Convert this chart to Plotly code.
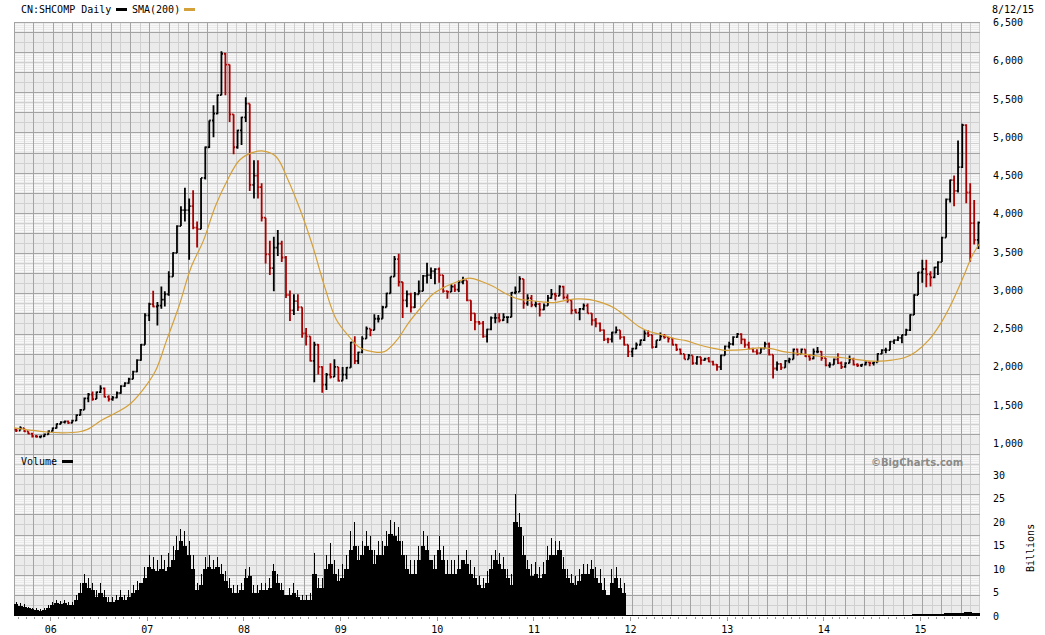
import plotly.graph_objects as go

# ---------------- data ----------------
# semi-monthly bars: 2005 = Aug(2nd half)..Dec, 2006-2014 = 24 halves, 2015 = Jan..Aug(1st half)
high_2005 = [1190, 1225, 1190, 1160, 1140, 1110, 1100, 1130, 1170]
high_2006 = [1210, 1260, 1290, 1300, 1300, 1310, 1380, 1450, 1600, 1660, 1680, 1680, 1760, 1730, 1630, 1620, 1680, 1760, 1800, 1860, 1950, 2100, 2300, 2700]
high_2007 = [2840, 2995, 2850, 3050, 2990, 3250, 3500, 3850, 4100, 4340, 4200, 4310, 3900, 4470, 4880, 5220, 5420, 5560, 6124, 6100, 5950, 5300, 5100, 5270]
high_2008 = [5522, 5400, 4700, 4700, 4400, 3950, 3650, 3700, 3790, 3650, 3450, 3000, 2950, 2950, 2780, 2510, 2400, 2330, 2300, 2010, 1920, 2050, 2100, 2000]
high_2009 = [2000, 2000, 2330, 2400, 2200, 2400, 2530, 2500, 2690, 2680, 2800, 2970, 3180, 3450, 3478, 3100, 3000, 2970, 2980, 3130, 3200, 3360, 3300, 3290]
high_2010 = [3300, 3200, 3000, 3080, 3080, 3130, 3180, 3130, 2870, 2700, 2600, 2600, 2500, 2660, 2700, 2700, 2700, 2660, 2980, 3050, 3186, 3150, 2950, 2940]
high_2011 = [2860, 2840, 2830, 2940, 3020, 2970, 3067, 3060, 2950, 2870, 2760, 2770, 2830, 2830, 2700, 2640, 2580, 2490, 2380, 2460, 2530, 2480, 2400, 2290]
high_2012 = [2250, 2320, 2360, 2480, 2480, 2420, 2350, 2450, 2430, 2390, 2380, 2300, 2240, 2170, 2170, 2150, 2140, 2130, 2120, 2130, 2080, 2040, 2160, 2280]
high_2013 = [2330, 2400, 2444, 2440, 2370, 2330, 2250, 2230, 2250, 2330, 2320, 2160, 2070, 2050, 2090, 2120, 2240, 2240, 2240, 2230, 2170, 2240, 2260, 2210]
high_2014 = [2110, 2060, 2110, 2180, 2070, 2060, 2150, 2120, 2050, 2040, 2070, 2070, 2070, 2180, 2230, 2250, 2340, 2360, 2400, 2420, 2500, 2690, 2950, 3240]
high_2015 = [3400, 3400, 3250, 3310, 3380, 3700, 4200, 4450, 4500, 4960, 5178, 5170, 4400, 4180, 3900]

low_2005 = [1150, 1170, 1150, 1120, 1080, 1075, 1070, 1085, 1115]
low_2006 = [1160, 1195, 1250, 1260, 1255, 1265, 1295, 1365, 1440, 1540, 1560, 1580, 1660, 1600, 1550, 1560, 1590, 1650, 1740, 1780, 1840, 1930, 2080, 2290]
low_2007 = [2600, 2780, 2540, 2760, 2790, 2930, 3180, 3500, 3840, 3900, 3400, 3800, 3560, 3800, 4450, 4860, 5000, 5300, 5550, 5550, 5200, 4780, 4850, 4900]
low_2008 = [5200, 4300, 4200, 4200, 3900, 3350, 3200, 2990, 3450, 3370, 2900, 2600, 2680, 2730, 2380, 2280, 2070, 1800, 1900, 1664, 1700, 1850, 1950, 1810]
low_2009 = [1840, 1840, 1990, 2040, 2040, 2180, 2370, 2400, 2480, 2580, 2630, 2780, 2960, 3180, 3050, 2640, 2780, 2710, 2770, 2950, 2990, 3090, 3150, 3080]
low_2010 = [3100, 2970, 2890, 2980, 2980, 2980, 3080, 2860, 2600, 2480, 2550, 2380, 2320, 2480, 2570, 2580, 2600, 2570, 2650, 2950, 2980, 2760, 2800, 2780]
low_2011 = [2780, 2660, 2740, 2800, 2890, 2870, 2930, 2880, 2840, 2690, 2700, 2610, 2740, 2700, 2540, 2520, 2460, 2340, 2310, 2320, 2440, 2360, 2280, 2130]
low_2012 = [2130, 2230, 2280, 2340, 2390, 2240, 2250, 2350, 2370, 2320, 2280, 2210, 2160, 2100, 2100, 2030, 2030, 2030, 2080, 2060, 2020, 1950, 1960, 2150]
low_2013 = [2240, 2280, 2380, 2300, 2250, 2230, 2190, 2160, 2180, 2240, 2150, 1849, 1950, 1960, 1990, 2050, 2100, 2150, 2170, 2130, 2080, 2100, 2180, 2080]
low_2014 = [2010, 1990, 2030, 2040, 1974, 1990, 2050, 2020, 2000, 2000, 2020, 2010, 2020, 2060, 2170, 2180, 2220, 2300, 2340, 2310, 2410, 2470, 2680, 2940]
low_2015 = [3100, 3040, 3050, 3160, 3200, 3370, 3700, 4150, 4100, 4280, 4600, 4140, 3373, 3600, 3540]

close_2005 = [1170, 1200, 1160, 1130, 1095, 1090, 1095, 1120, 1160]
close_2006 = [1200, 1255, 1280, 1290, 1270, 1300, 1370, 1440, 1590, 1640, 1580, 1670, 1720, 1610, 1580, 1600, 1660, 1750, 1790, 1840, 1940, 2090, 2290, 2675]
close_2007 = [2820, 2790, 2800, 2880, 2950, 3180, 3490, 3840, 4050, 4050, 4100, 3820, 3800, 4470, 4870, 5220, 5310, 5550, 6092, 5950, 5300, 4870, 5090, 5260]
close_2008 = [5440, 4380, 4500, 4350, 3950, 3470, 3290, 3560, 3610, 3430, 2940, 2740, 2860, 2780, 2440, 2400, 2080, 2290, 2000, 1770, 1900, 1870, 2000, 1820]
close_2009 = [1900, 1990, 2320, 2080, 2190, 2370, 2500, 2480, 2630, 2630, 2780, 2960, 3180, 3410, 3110, 2870, 2950, 2780, 2950, 2990, 3190, 3200, 3250, 3277]
close_2010 = [3200, 2990, 2980, 3050, 3010, 3110, 3130, 2870, 2700, 2590, 2570, 2400, 2490, 2640, 2640, 2610, 2650, 2650, 2970, 2980, 3150, 2830, 2900, 2810]
close_2011 = [2820, 2750, 2800, 2900, 2950, 2930, 3050, 2910, 2870, 2740, 2710, 2760, 2800, 2700, 2610, 2570, 2480, 2360, 2360, 2450, 2480, 2390, 2290, 2200]
close_2012 = [2240, 2290, 2350, 2440, 2420, 2260, 2350, 2400, 2390, 2370, 2290, 2230, 2170, 2100, 2150, 2050, 2130, 2090, 2110, 2070, 2030, 2000, 2150, 2270]
close_2013 = [2300, 2390, 2430, 2360, 2290, 2240, 2200, 2180, 2240, 2300, 2160, 1980, 2040, 1990, 2080, 2100, 2230, 2170, 2230, 2140, 2110, 2200, 2200, 2116]
close_2014 = [2020, 2030, 2100, 2050, 2000, 2050, 2100, 2030, 2020, 2030, 2060, 2050, 2060, 2170, 2220, 2220, 2330, 2350, 2380, 2420, 2480, 2680, 2940, 3235]
close_2015 = [3280, 3210, 3170, 3300, 3370, 3690, 4190, 4440, 4300, 4610, 5160, 4280, 3880, 3660, 3886]
first_open = 1180

# volume, billions (same semi-monthly periods): typical level and the highest spike
vol_2005 = [2.5, 2.2, 2.0, 1.6, 1.4, 1.2, 1.1, 1.3, 1.8]
vol_2006 = [2.4, 2.8, 2.6, 2.8, 2.4, 2.3, 3.5, 5.0, 7.0, 6.0, 5.5, 4.0, 5.0, 4.0, 3.0, 3.0, 3.4, 4.0, 3.5, 4.0, 4.8, 5.5, 7.0, 8.0]
vol_2007 = [10.5, 10.0, 9.5, 10.0, 9.5, 10.5, 12.0, 14.0, 16.0, 15.0, 13.0, 10.0, 5.5, 6.5, 10.0, 10.5, 10.0, 10.5, 9.0, 7.5, 6.0, 5.0, 5.0, 5.5]
vol_2008 = [8.0, 8.5, 5.0, 5.0, 5.5, 5.5, 6.0, 9.5, 7.0, 5.5, 4.5, 4.5, 5.0, 4.0, 3.5, 3.5, 3.5, 9.0, 6.0, 6.0, 10.0, 11.0, 9.0, 7.5]
vol_2009 = [8.0, 10.0, 14.0, 15.0, 12.0, 13.0, 15.0, 14.0, 11.0, 13.0, 13.0, 15.0, 17.5, 17.0, 16.0, 13.0, 10.0, 9.0, 9.0, 12.0, 15.0, 14.0, 12.0, 10.0]
vol_2010 = [14.0, 12.0, 9.0, 9.0, 9.0, 10.0, 12.0, 11.0, 9.0, 8.0, 6.5, 6.0, 7.0, 10.0, 12.0, 11.0, 10.0, 8.0, 6.5, 20.0, 19.0, 13.0, 10.0, 8.5]
vol_2011 = [9.0, 8.0, 9.0, 12.0, 13.0, 13.0, 14.0, 10.0, 8.0, 7.0, 6.5, 7.5, 9.0, 9.0, 10.0, 8.0, 7.0, 5.5, 4.5, 7.0, 8.0, 6.0, 5.0, 0.2]
vol_2012 = [0.2, 0.2, 0.2, 0.2, 0.2, 0.2, 0.2, 0.2, 0.2, 0.2, 0.2, 0.2, 0.2, 0.2, 0.2, 0.2, 0.2, 0.2, 0.2, 0.2, 0.2, 0.2, 0.2, 0.2]
vol_2013 = [0.2, 0.2, 0.2, 0.2, 0.2, 0.2, 0.2, 0.2, 0.2, 0.2, 0.2, 0.2, 0.2, 0.2, 0.2, 0.2, 0.2, 0.2, 0.2, 0.2, 0.2, 0.2, 0.2, 0.2]
vol_2014 = [0.2, 0.2, 0.2, 0.2, 0.2, 0.2, 0.2, 0.2, 0.2, 0.2, 0.2, 0.2, 0.2, 0.2, 0.2, 0.2, 0.25, 0.3, 0.3, 0.3, 0.3, 0.3, 0.35, 0.35]
vol_2015 = [0.35, 0.35, 0.4, 0.4, 0.45, 0.5, 0.6, 0.6, 0.6, 0.65, 0.7, 0.8, 0.8, 0.7, 0.7]

peak_2005 = [3.0, 2.8, 2.5, 2.0, 1.8, 1.6, 1.5, 1.8, 2.3]
peak_2006 = [3.0, 3.5, 3.2, 3.5, 3.0, 3.0, 4.5, 7.0, 9.0, 8.0, 7.0, 5.5, 7.0, 5.5, 4.0, 4.0, 4.5, 5.5, 4.5, 5.5, 6.5, 7.5, 9.0, 10.5]
peak_2007 = [13.0, 12.5, 12.0, 13.0, 12.0, 13.5, 15.0, 17.0, 18.5, 18.0, 16.0, 13.0, 7.0, 9.0, 12.5, 13.0, 12.0, 12.5, 11.0, 9.5, 8.0, 6.5, 6.5, 7.0]
peak_2008 = [10.0, 10.5, 6.5, 6.5, 7.0, 7.0, 8.0, 11.0, 9.0, 7.0, 6.0, 6.0, 7.0, 5.5, 4.5, 4.5, 5.0, 13.5, 8.0, 8.0, 13.0, 15.5, 12.0, 10.0]
peak_2009 = [11.0, 13.0, 18.0, 20.0, 15.0, 16.0, 18.0, 17.0, 14.0, 16.0, 16.0, 18.0, 20.5, 20.0, 19.0, 16.0, 13.0, 12.0, 12.0, 15.0, 18.0, 17.0, 15.0, 13.0]
peak_2010 = [17.0, 15.0, 12.0, 12.0, 12.0, 13.0, 15.0, 14.0, 12.0, 10.5, 8.5, 8.0, 9.5, 13.0, 14.0, 13.5, 12.5, 10.0, 9.0, 26.0, 22.0, 17.0, 12.0, 11.0]
peak_2011 = [11.5, 10.5, 11.5, 15.0, 16.5, 16.0, 16.0, 12.5, 10.0, 9.0, 8.5, 10.0, 11.0, 11.0, 12.0, 10.5, 10.0, 8.0, 6.5, 10.0, 10.5, 8.0, 7.0]

# SMA(200) line, read at ~6-week spacing
sma_dates = ["2005-08-15", "2005-10-15", "2005-12-15", "2006-02-15", "2006-04-15", "2006-05-20", "2006-07-15",
             "2006-09-15", "2006-11-01", "2006-12-15", "2007-02-01", "2007-03-15", "2007-05-01", "2007-06-15",
             "2007-08-01", "2007-09-15", "2007-11-01", "2007-12-15", "2008-02-01", "2008-03-15", "2008-05-01",
             "2008-06-15", "2008-08-01", "2008-09-15", "2008-11-01", "2008-12-15", "2009-02-01", "2009-03-15",
             "2009-05-01", "2009-06-15", "2009-08-01", "2009-09-15", "2009-11-01", "2009-12-15", "2010-02-01",
             "2010-03-15", "2010-05-01", "2010-06-15", "2010-08-01", "2010-09-15", "2010-11-01", "2010-12-15",
             "2011-02-01", "2011-03-15", "2011-05-01", "2011-06-15", "2011-08-01", "2011-09-15", "2011-11-01",
             "2011-12-15", "2012-02-01", "2012-03-15", "2012-05-01", "2012-06-15", "2012-08-01", "2012-09-15",
             "2012-11-01", "2012-12-15", "2013-02-01", "2013-03-15", "2013-05-01", "2013-06-15", "2013-08-01",
             "2013-09-15", "2013-11-01", "2013-12-15", "2014-02-01", "2014-03-15", "2014-05-01", "2014-06-15",
             "2014-08-01", "2014-09-15", "2014-11-01", "2014-12-15", "2015-02-01", "2015-03-15", "2015-05-01",
             "2015-06-15", "2015-07-15", "2015-08-12"]
sma_values = [1205, 1175, 1150, 1140, 1150, 1185, 1310,
              1420, 1530, 1700, 1950, 2350, 2800, 3300,
              3650, 4100, 4450, 4700, 4800, 4820, 4750,
              4450, 4050, 3600, 3050, 2620, 2400, 2250,
              2200, 2200, 2350, 2580, 2780, 2950, 3050,
              3110, 3160, 3120, 3050, 2960, 2890, 2870,
              2850, 2840, 2870, 2890, 2880, 2840, 2770,
              2660, 2530, 2460, 2420, 2370, 2340, 2290,
              2250, 2220, 2220, 2230, 2250, 2240, 2200,
              2180, 2160, 2140, 2130, 2120, 2100, 2080,
              2075, 2090, 2120, 2200, 2350, 2550, 2850,
              3200, 3450, 3610]

price_ticks = [1000, 1500, 2000, 2500, 3000, 3500, 4000, 4500, 5000, 5500, 6000, 6500]
volume_ticks = [0, 5, 10, 15, 20, 25, 30]
year_labels_start = "2006-01-01"

# ---------------- assemble ----------------
highs = high_2005 + high_2006 + high_2007 + high_2008 + high_2009 + high_2010 + high_2011 + high_2012 + high_2013 + high_2014 + high_2015
lows = low_2005 + low_2006 + low_2007 + low_2008 + low_2009 + low_2010 + low_2011 + low_2012 + low_2013 + low_2014 + low_2015
closes = close_2005 + close_2006 + close_2007 + close_2008 + close_2009 + close_2010 + close_2011 + close_2012 + close_2013 + close_2014 + close_2015
vols = vol_2005 + vol_2006 + vol_2007 + vol_2008 + vol_2009 + vol_2010 + vol_2011 + vol_2012 + vol_2013 + vol_2014 + vol_2015
peaks = peak_2005 + peak_2006 + peak_2007 + peak_2008 + peak_2009 + peak_2010 + peak_2011

bar_dates = []
y, m, h = 2005, 8, 2
while True:
    bar_dates.append(f"{y}-{m:02d}-{8 if h == 1 else 23}")
    if (y, m, h) == (2015, 8, 1):
        break
    if h == 1:
        h = 2
    else:
        h = 1
        m += 1
        if m > 12:
            m = 1
            y += 1

n = len(bar_dates)
assert len(highs) == n and len(lows) == n and len(closes) == n and len(vols) == n, (n, len(highs), len(lows), len(closes), len(vols))

opens = [first_open] + closes[:-1]
hi = [max(a, b, c) for a, b, c in zip(highs, opens, closes)]
lo = [min(a, b, c) for a, b, c in zip(lows, opens, closes)]

# ---------------- geometry (screen pixels; page margin removed by post_script) ----------------
W, H = 1045, 635
ML, MT = 14, 22
MR, MB = W - 980, H - 616
PW, PH = W - ML - MR, H - MT - MB


def px(xs):
    return (xs - ML) / PW


def py(ys):
    return (H - MB - ys) / PH


BG = "#ebebeb"
DARK = "#a3a3a3"
LIGHT = "#d0d0d0"
STRIPE = "#f8f8f8"

dark_rows = [22] + [32 + round(k * 20.1) for k in range(30)]
light_rows = [32 + round((k + 0.5) * 20.1) for k in range(29)]
bands = [(22, 32)] + [(32 + round(k * 20.1), 32 + round((k + 1) * 20.1)) for k in range(1, 29, 2)]
stripe_rows = []
for t, b in bands:
    r = t + 2
    while r < b - 1:
        if r not in light_rows:
            stripe_rows.append(r)
        r += 2
dark_cols = [14 + round(k * 19.32) for k in range(50)]
light_cols = [14 + round((k + 0.5) * 19.32) for k in range(50)] + [979]


def hpath(rows):
    return " ".join(f"M0,{py(r + 0.5):.5f} L1,{py(r + 0.5):.5f}" for r in rows)


def vpath(cols):
    return " ".join(f"M{px(c + 0.5):.5f},0 L{px(c + 0.5):.5f},1" for c in cols)


shapes = [
    dict(type="path", xref="paper", yref="paper", path=hpath(stripe_rows), line=dict(color=STRIPE, width=1), layer="below"),
    dict(type="path", xref="paper", yref="paper", path=hpath(light_rows), line=dict(color=LIGHT, width=1), layer="below"),
    dict(type="path", xref="paper", yref="paper", path=vpath(light_cols), line=dict(color=LIGHT, width=1), layer="below"),
    dict(type="path", xref="paper", yref="paper", path=hpath(dark_rows), line=dict(color=DARK, width=1), layer="below"),
    dict(type="path", xref="paper", yref="paper", path=vpath(dark_cols), line=dict(color=DARK, width=1), layer="below"),
    # legend swatches
    dict(type="line", xref="paper", yref="paper", x0=px(116), x1=px(127), y0=py(9.5), y1=py(9.5), line=dict(color="black", width=3)),
    dict(type="line", xref="paper", yref="paper", x0=px(184), x1=px(195), y0=py(9.5), y1=py(9.5), line=dict(color="#d4a03a", width=3)),
    dict(type="line", xref="paper", yref="paper", x0=px(62), x1=px(73), y0=py(461.5), y1=py(461.5), line=dict(color="black", width=3)),
]

MONO = "DejaVu Sans Mono"
annotations = [
    dict(text="CN:SHCOMP Daily", x=px(19), y=py(9.5), xref="paper", yref="paper", xanchor="left", yanchor="middle",
         showarrow=False, font=dict(family=MONO, size=10, color="black")),
    dict(text="SMA(200)", x=px(130), y=py(9.5), xref="paper", yref="paper", xanchor="left", yanchor="middle",
         showarrow=False, font=dict(family=MONO, size=10, color="black")),
    dict(text="8/12/15", x=px(990), y=py(9.5), xref="paper", yref="paper", xanchor="left", yanchor="middle",
         showarrow=False, font=dict(family=MONO, size=10, color="black")),
    dict(text="Volume", x=px(19), y=py(461.5), xref="paper", yref="paper", xanchor="left", yanchor="middle",
         showarrow=False, font=dict(family=MONO, size=10, color="black")),
    dict(text="<b>©BigCharts.com</b>", x=px(917), y=py(462), xref="paper", yref="paper", xanchor="center", yanchor="middle",
         showarrow=False, font=dict(family="DejaVu Sans", size=10, color="#8a8a8a")),
    dict(text="Billions", x=px(1030), y=py(548), xref="paper", yref="paper", xanchor="center", yanchor="middle",
         textangle=-90, showarrow=False, font=dict(family=MONO, size=10, color="black")),
]

fig = go.Figure()
fig.add_trace(go.Bar(x=bar_dates, y=vols, yaxis="y2", marker=dict(color="black", line=dict(width=0)),
                     width=1.45e9, hoverinfo="skip"))
fig.add_trace(go.Bar(x=bar_dates[:len(peaks)], y=peaks, yaxis="y2", marker=dict(color="black", line=dict(width=0)),
                     width=3.2e8, hoverinfo="skip"))
fig.add_trace(go.Scatter(x=sma_dates, y=sma_values, mode="lines", line=dict(color="#d4a03a", width=1.2, shape="spline"),
                         hoverinfo="skip"))
fig.add_trace(go.Ohlc(x=bar_dates, open=opens, high=hi, low=lo, close=closes, tickwidth=0.45,
                      increasing=dict(line=dict(color="black", width=1.8)),
                      decreasing=dict(line=dict(color="#a80000", width=1.8)), hoverinfo="skip"))

fig.update_layout(
    width=W, height=H, autosize=False,
    margin=dict(l=ML, r=MR, t=MT, b=MB, pad=0, autoexpand=False),
    paper_bgcolor="white", plot_bgcolor=BG,
    showlegend=False, bargap=0, barmode="overlay",
    shapes=shapes, annotations=annotations,
    xaxis=dict(type="date", range=["2005-08-15", "2015-08-14"], showgrid=False, zeroline=False, automargin=False,
               rangeslider=dict(visible=False), dtick="M12", tick0=year_labels_start, tickformat="%y",
               ticks="outside", ticklen=4, tickcolor="#999999", showline=False,
               tickfont=dict(family=MONO, size=10, color="black"),
               minor=dict(ticks="outside", ticklen=2, dtick="M1", tickcolor="#999999")),
    yaxis=dict(side="right", range=[-1253.5, 6506.5], tickvals=price_ticks, tickformat=",d", showgrid=False,
               zeroline=False, ticks="", ticklabelstandoff=12, automargin=False,
               tickfont=dict(family=MONO, size=10, color="black"), fixedrange=True),
    yaxis2=dict(side="right", overlaying="y", range=[0, 126.4], tickvals=volume_ticks, showgrid=False,
                zeroline=False, ticks="", ticklabelstandoff=12, automargin=False,
                tickfont=dict(family=MONO, size=10, color="black"), fixedrange=True),
)

fig.write_html("out.html", config={"displayModeBar": False, "staticPlot": True},
               post_script="document.body.style.margin='0';document.body.style.overflow='hidden';")
